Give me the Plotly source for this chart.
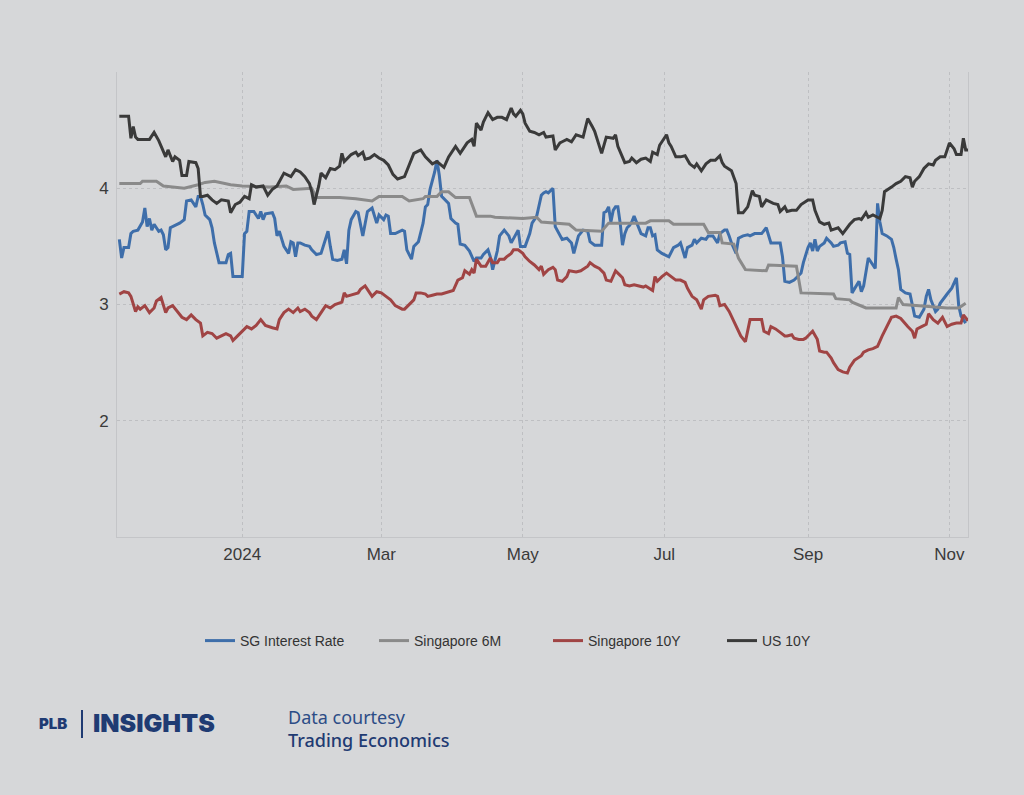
import plotly.graph_objects as go

# ---------------- DATA ----------------
sg_rate_dates = ["2023-11-09","2023-11-10","2023-11-11","2023-11-13","2023-11-14","2023-11-15","2023-11-17","2023-11-19","2023-11-20","2023-11-21","2023-11-22","2023-11-23","2023-11-24","2023-11-26","2023-11-27","2023-11-28","2023-11-29","2023-11-30","2023-12-01","2023-12-03","2023-12-05","2023-12-07","2023-12-08","2023-12-10","2023-12-12","2023-12-13","2023-12-14","2023-12-15","2023-12-16","2023-12-18","2023-12-19","2023-12-20","2023-12-22","2023-12-25","2023-12-26","2023-12-27","2023-12-28",
"2024-01-01","2024-01-02","2024-01-03","2024-01-04","2024-01-06","2024-01-08","2024-01-09","2024-01-10","2024-01-11","2024-01-14","2024-01-15","2024-01-16","2024-01-17","2024-01-19","2024-01-21","2024-01-22","2024-01-23","2024-01-24","2024-01-25","2024-01-26","2024-01-28","2024-01-30","2024-01-31",
"2024-02-02","2024-02-04","2024-02-05","2024-02-07","2024-02-08","2024-02-09","2024-02-11","2024-02-13","2024-02-14","2024-02-15","2024-02-16","2024-02-17","2024-02-19","2024-02-20","2024-02-22","2024-02-23","2024-02-24","2024-02-26","2024-02-27","2024-02-28","2024-02-29",
"2024-03-02","2024-03-03","2024-03-04","2024-03-05","2024-03-07","2024-03-10","2024-03-11","2024-03-12","2024-03-14","2024-03-15","2024-03-17","2024-03-19","2024-03-20","2024-03-21","2024-03-22","2024-03-24","2024-03-25","2024-03-26","2024-03-27","2024-03-30","2024-03-31",
"2024-04-02","2024-04-03","2024-04-04","2024-04-06","2024-04-08","2024-04-10","2024-04-11","2024-04-13","2024-04-14","2024-04-16","2024-04-17","2024-04-18","2024-04-20","2024-04-21","2024-04-23","2024-04-25","2024-04-26","2024-04-28","2024-04-29","2024-04-30",
"2024-05-02","2024-05-04","2024-05-05","2024-05-07","2024-05-09","2024-05-10","2024-05-11","2024-05-12","2024-05-14","2024-05-15","2024-05-17","2024-05-18","2024-05-20","2024-05-22","2024-05-23","2024-05-25","2024-05-27","2024-05-29","2024-05-30",
"2024-06-01","2024-06-04","2024-06-05","2024-06-06","2024-06-07","2024-06-08","2024-06-09","2024-06-10","2024-06-11","2024-06-12","2024-06-13","2024-06-14","2024-06-15","2024-06-16","2024-06-17","2024-06-18","2024-06-19","2024-06-20","2024-06-21","2024-06-23","2024-06-24","2024-06-25","2024-06-26","2024-06-27","2024-06-28","2024-06-30",
"2024-07-01","2024-07-03","2024-07-05","2024-07-07","2024-07-08","2024-07-10","2024-07-11","2024-07-13","2024-07-14","2024-07-15","2024-07-17","2024-07-19","2024-07-20","2024-07-22","2024-07-24","2024-07-25","2024-07-27","2024-07-28","2024-07-29","2024-07-30",
"2024-08-01","2024-08-02","2024-08-04","2024-08-06","2024-08-07","2024-08-09","2024-08-11","2024-08-12","2024-08-14","2024-08-16","2024-08-18","2024-08-20","2024-08-21","2024-08-22","2024-08-24","2024-08-26","2024-08-27","2024-08-29","2024-08-30",
"2024-09-01","2024-09-02","2024-09-03","2024-09-04","2024-09-05","2024-09-06","2024-09-08","2024-09-09","2024-09-11","2024-09-12","2024-09-14","2024-09-15","2024-09-17","2024-09-18","2024-09-19","2024-09-20","2024-09-21","2024-09-23","2024-09-24","2024-09-25","2024-09-27","2024-09-28","2024-09-30",
"2024-10-01","2024-10-02","2024-10-03","2024-10-05","2024-10-07","2024-10-08","2024-10-09","2024-10-10","2024-10-11","2024-10-13","2024-10-15","2024-10-16","2024-10-17","2024-10-19","2024-10-21","2024-10-22","2024-10-23","2024-10-24","2024-10-26","2024-10-27","2024-10-28","2024-10-31",
"2024-11-02","2024-11-04","2024-11-05","2024-11-06","2024-11-08"]
sg_rate_values = [3.56,3.40,3.49,3.49,3.61,3.63,3.64,3.71,3.83,3.67,3.74,3.64,3.69,3.63,3.64,3.60,3.47,3.49,3.66,3.68,3.70,3.73,3.89,3.90,3.84,3.93,3.93,3.86,3.77,3.73,3.66,3.53,3.36,3.36,3.43,3.44,3.24,
3.24,3.61,3.63,3.80,3.80,3.74,3.80,3.73,3.78,3.79,3.74,3.59,3.63,3.50,3.44,3.54,3.53,3.41,3.53,3.53,3.51,3.50,3.47,
3.43,3.44,3.50,3.63,3.50,3.39,3.38,3.39,3.47,3.35,3.64,3.73,3.80,3.79,3.59,3.71,3.80,3.83,3.76,3.70,3.77,
3.73,3.77,3.76,3.61,3.61,3.64,3.63,3.47,3.39,3.50,3.54,3.70,3.84,3.86,3.99,4.14,4.24,4.11,3.93,3.87,3.74,
3.70,3.69,3.52,3.51,3.46,3.37,3.40,3.40,3.43,3.47,3.41,3.30,3.46,3.59,3.64,3.59,3.53,3.61,3.64,3.50,
3.50,3.61,3.70,3.76,3.94,3.96,3.97,3.96,4.00,3.67,3.59,3.56,3.57,3.53,3.44,3.59,3.64,3.63,3.54,
3.51,3.51,3.79,3.80,3.84,3.71,3.81,3.84,3.84,3.70,3.51,3.61,3.66,3.68,3.71,3.76,3.71,3.66,3.61,3.59,3.66,3.66,3.59,3.60,3.47,3.44,
3.43,3.41,3.49,3.51,3.53,3.40,3.49,3.51,3.56,3.53,3.57,3.56,3.59,3.59,3.53,3.61,3.64,3.64,3.59,3.53,
3.44,3.57,3.59,3.60,3.59,3.61,3.61,3.61,3.66,3.53,3.53,3.53,3.41,3.20,3.19,3.21,3.23,3.27,3.36,
3.49,3.53,3.46,3.56,3.46,3.50,3.53,3.57,3.53,3.50,3.51,3.53,3.54,3.44,3.43,3.10,3.13,3.20,3.11,3.16,3.40,3.37,3.31,
3.87,3.71,3.61,3.59,3.56,3.49,3.39,3.30,3.13,3.10,3.09,2.99,2.90,2.89,2.96,3.07,3.13,3.04,2.94,2.96,3.01,3.09,
3.14,3.23,2.99,2.90,2.84]

sg6m_dates = ["2023-11-09","2023-11-18","2023-11-19","2023-11-25","2023-11-28","2023-12-07","2023-12-13","2023-12-16","2023-12-20","2023-12-27",
"2024-01-01","2024-01-13","2024-01-20","2024-01-23","2024-01-31","2024-02-02","2024-02-12","2024-02-19","2024-02-26","2024-02-29",
"2024-03-10","2024-03-13","2024-03-19","2024-03-20","2024-03-25","2024-03-27","2024-03-30","2024-04-02","2024-04-08","2024-04-11",
"2024-04-17","2024-04-19","2024-05-01","2024-05-07","2024-05-09","2024-05-21","2024-05-24","2024-06-04","2024-06-07","2024-06-23",
"2024-06-25","2024-07-03","2024-07-05","2024-07-18","2024-07-20","2024-07-25","2024-07-26","2024-07-31","2024-08-02","2024-08-05",
"2024-08-14","2024-08-15","2024-08-27","2024-08-29","2024-09-12","2024-09-13","2024-09-19","2024-09-20","2024-09-26","2024-10-09",
"2024-10-10","2024-10-12","2024-10-19","2024-10-31","2024-11-05","2024-11-08"]
sg6m_values = [4.04,4.04,4.06,4.06,4.02,4.00,4.03,4.05,4.06,4.03,
4.02,4.01,4.02,3.99,4.00,3.92,3.92,3.91,3.89,3.93,
3.93,3.89,3.91,3.93,3.93,3.97,3.97,3.92,3.92,3.76,
3.76,3.75,3.74,3.75,3.71,3.69,3.64,3.63,3.70,3.70,
3.72,3.72,3.69,3.69,3.62,3.62,3.53,3.52,3.40,3.30,
3.29,3.34,3.33,3.10,3.09,3.05,3.04,3.02,2.97,2.97,
3.06,3.00,2.99,2.97,2.97,3.01]

sg10y_dates = ["2023-11-09","2023-11-11","2023-11-13","2023-11-14","2023-11-16","2023-11-17","2023-11-18","2023-11-20","2023-11-22","2023-11-24","2023-11-25","2023-11-27","2023-11-29","2023-11-30",
"2023-12-02","2023-12-04","2023-12-06","2023-12-08","2023-12-10","2023-12-12","2023-12-14","2023-12-15","2023-12-17","2023-12-19","2023-12-21","2023-12-23","2023-12-25","2023-12-27","2023-12-28","2023-12-30",
"2024-01-01","2024-01-03","2024-01-05","2024-01-07","2024-01-09","2024-01-11","2024-01-14","2024-01-16","2024-01-17","2024-01-19","2024-01-21","2024-01-23","2024-01-25","2024-01-26","2024-01-28","2024-01-30","2024-01-31",
"2024-02-02","2024-02-04","2024-02-06","2024-02-08","2024-02-10","2024-02-13","2024-02-14","2024-02-15","2024-02-18","2024-02-20","2024-02-21","2024-02-23","2024-02-25","2024-02-26","2024-02-28",
"2024-03-01","2024-03-03","2024-03-05","2024-03-07","2024-03-10","2024-03-11","2024-03-13","2024-03-15","2024-03-16","2024-03-18","2024-03-20","2024-03-21","2024-03-23","2024-03-25","2024-03-27","2024-03-30",
"2024-04-01","2024-04-03","2024-04-05","2024-04-06","2024-04-08","2024-04-09","2024-04-10","2024-04-11","2024-04-13","2024-04-15","2024-04-16","2024-04-17","2024-04-18","2024-04-20","2024-04-21","2024-04-23","2024-04-24","2024-04-26","2024-04-27","2024-04-29",
"2024-05-01","2024-05-02","2024-05-04","2024-05-06","2024-05-08","2024-05-09","2024-05-10","2024-05-12","2024-05-14","2024-05-15","2024-05-16","2024-05-18","2024-05-20","2024-05-21","2024-05-24","2024-05-26","2024-05-29","2024-05-30",
"2024-06-01","2024-06-03","2024-06-05","2024-06-06","2024-06-08","2024-06-10","2024-06-11","2024-06-13","2024-06-14","2024-06-16","2024-06-18","2024-06-20","2024-06-22","2024-06-23","2024-06-26","2024-06-27","2024-06-28","2024-06-30",
"2024-07-02","2024-07-04","2024-07-06","2024-07-08","2024-07-10","2024-07-11","2024-07-13","2024-07-15","2024-07-17","2024-07-18","2024-07-20","2024-07-23","2024-07-24","2024-07-25","2024-07-27","2024-07-29","2024-07-30",
"2024-08-01","2024-08-03","2024-08-05","2024-08-06","2024-08-07","2024-08-10","2024-08-12","2024-08-13","2024-08-15","2024-08-16","2024-08-18","2024-08-20","2024-08-22","2024-08-23","2024-08-25","2024-08-26","2024-08-28","2024-08-30","2024-08-31",
"2024-09-02","2024-09-03","2024-09-05","2024-09-06","2024-09-08","2024-09-09","2024-09-11","2024-09-12","2024-09-14","2024-09-16","2024-09-18","2024-09-19","2024-09-21","2024-09-24","2024-09-25","2024-09-27","2024-09-29",
"2024-10-01","2024-10-03","2024-10-05","2024-10-07","2024-10-09","2024-10-11","2024-10-14","2024-10-16","2024-10-17","2024-10-18","2024-10-20","2024-10-22","2024-10-23","2024-10-25","2024-10-27","2024-10-29","2024-10-31",
"2024-11-02","2024-11-04","2024-11-06","2024-11-07","2024-11-08","2024-11-09"]
sg10y_values = [3.09,3.11,3.10,3.07,2.94,2.98,2.96,2.99,2.93,2.97,3.03,3.06,2.93,2.97,
2.99,2.94,2.89,2.87,2.91,2.87,2.84,2.73,2.76,2.75,2.71,2.73,2.75,2.73,2.69,2.73,
2.77,2.81,2.79,2.82,2.87,2.82,2.80,2.79,2.87,2.93,2.96,2.93,2.97,2.94,2.96,2.93,2.90,
2.87,2.93,2.99,2.97,3.00,3.02,3.10,3.07,3.09,3.10,3.13,3.16,3.10,3.07,3.11,
3.10,3.07,3.04,2.99,2.96,2.96,3.00,3.04,3.10,3.10,3.09,3.07,3.08,3.09,3.09,3.11,
3.12,3.21,3.23,3.29,3.26,3.30,3.27,3.39,3.33,3.33,3.36,3.40,3.36,3.36,3.39,3.39,3.41,3.44,3.47,3.47,
3.44,3.41,3.37,3.34,3.30,3.33,3.26,3.30,3.32,3.30,3.21,3.20,3.24,3.29,3.28,3.29,3.33,3.36,
3.33,3.31,3.27,3.21,3.20,3.29,3.27,3.23,3.17,3.16,3.17,3.16,3.15,3.16,3.12,3.24,3.20,3.24,
3.27,3.24,3.21,3.21,3.19,3.14,3.07,3.04,2.96,3.04,3.07,3.08,3.07,2.99,3.00,2.94,2.90,
2.82,2.73,2.68,2.77,2.87,2.87,2.87,2.77,2.75,2.81,2.79,2.76,2.73,2.73,2.74,2.71,2.70,2.70,2.71,
2.75,2.77,2.70,2.60,2.59,2.59,2.54,2.50,2.44,2.42,2.41,2.46,2.52,2.56,2.59,2.61,2.62,
2.64,2.73,2.81,2.89,2.90,2.88,2.81,2.77,2.71,2.79,2.81,2.83,2.92,2.87,2.84,2.89,2.81,
2.83,2.84,2.84,2.91,2.88,2.86]

us10y_dates = ["2023-11-09","2023-11-13","2023-11-14","2023-11-15","2023-11-16","2023-11-17","2023-11-22","2023-11-24","2023-11-26","2023-11-29","2023-11-30",
"2023-12-02","2023-12-03","2023-12-05","2023-12-06","2023-12-08","2023-12-09","2023-12-12","2023-12-13","2023-12-14","2023-12-15","2023-12-17","2023-12-19","2023-12-21","2023-12-23","2023-12-26","2023-12-27","2023-12-29","2023-12-31",
"2024-01-02","2024-01-04","2024-01-05","2024-01-07","2024-01-10","2024-01-12","2024-01-14","2024-01-16","2024-01-19","2024-01-22","2024-01-24","2024-01-26","2024-01-28","2024-01-30","2024-01-31",
"2024-02-01","2024-02-03","2024-02-04","2024-02-06","2024-02-08","2024-02-10","2024-02-12","2024-02-13","2024-02-14","2024-02-17","2024-02-19","2024-02-20","2024-02-22","2024-02-23","2024-02-25","2024-02-27","2024-02-29",
"2024-03-02","2024-03-04","2024-03-06","2024-03-08","2024-03-11","2024-03-13","2024-03-15","2024-03-18","2024-03-20","2024-03-23","2024-03-25","2024-03-28","2024-03-30",
"2024-04-02","2024-04-04","2024-04-06","2024-04-07","2024-04-09","2024-04-10","2024-04-11","2024-04-13","2024-04-14","2024-04-16","2024-04-18","2024-04-20","2024-04-22","2024-04-24","2024-04-26","2024-04-27","2024-04-28","2024-04-30",
"2024-05-01","2024-05-02","2024-05-04","2024-05-06","2024-05-08","2024-05-09","2024-05-10","2024-05-11","2024-05-14","2024-05-15","2024-05-17","2024-05-18","2024-05-20","2024-05-22","2024-05-24","2024-05-27","2024-05-29","2024-05-31",
"2024-06-01","2024-06-04","2024-06-06","2024-06-09","2024-06-10","2024-06-11","2024-06-14","2024-06-16","2024-06-17","2024-06-19","2024-06-21","2024-06-23","2024-06-25","2024-06-26","2024-06-28","2024-06-29","2024-06-30",
"2024-07-02","2024-07-03","2024-07-04","2024-07-06","2024-07-08","2024-07-10","2024-07-12","2024-07-14","2024-07-15","2024-07-17","2024-07-19","2024-07-21","2024-07-23","2024-07-25","2024-07-26","2024-07-27","2024-07-30",
"2024-08-01","2024-08-02","2024-08-04","2024-08-06","2024-08-08","2024-08-09","2024-08-11","2024-08-12","2024-08-14","2024-08-17","2024-08-19","2024-08-20","2024-08-22","2024-08-23","2024-08-25","2024-08-27","2024-08-29",
"2024-09-01","2024-09-03","2024-09-04","2024-09-06","2024-09-08","2024-09-10","2024-09-11","2024-09-14","2024-09-16","2024-09-19","2024-09-21","2024-09-23","2024-09-24","2024-09-26","2024-09-27","2024-09-29",
"2024-10-02","2024-10-03","2024-10-04","2024-10-07","2024-10-09","2024-10-11","2024-10-13","2024-10-15","2024-10-16","2024-10-17","2024-10-19","2024-10-21","2024-10-23","2024-10-25","2024-10-26","2024-10-28","2024-10-30",
"2024-11-01","2024-11-03","2024-11-04","2024-11-06","2024-11-07","2024-11-08","2024-11-09"]
us10y_values = [4.62,4.62,4.43,4.53,4.44,4.42,4.42,4.48,4.41,4.27,4.33,
4.23,4.27,4.24,4.11,4.11,4.23,4.22,4.17,3.93,3.93,3.94,3.90,3.87,3.90,3.89,3.79,3.86,3.88,
3.93,3.91,4.03,4.01,4.02,3.94,3.99,4.02,4.13,4.10,4.16,4.14,4.10,4.04,3.97,
3.86,4.02,4.13,4.09,4.17,4.16,4.19,4.30,4.23,4.29,4.31,4.28,4.31,4.25,4.26,4.29,4.26,
4.24,4.20,4.12,4.08,4.10,4.20,4.30,4.33,4.27,4.21,4.23,4.18,4.27,
4.36,4.30,4.36,4.39,4.42,4.36,4.56,4.50,4.57,4.65,4.59,4.61,4.61,4.59,4.69,4.64,4.62,4.67,
4.64,4.56,4.49,4.48,4.46,4.47,4.48,4.44,4.45,4.33,4.39,4.40,4.42,4.40,4.46,4.44,4.60,4.53,
4.49,4.30,4.44,4.43,4.46,4.36,4.22,4.23,4.26,4.22,4.25,4.26,4.23,4.31,4.29,4.37,4.40,
4.46,4.39,4.36,4.27,4.27,4.28,4.21,4.18,4.21,4.15,4.21,4.24,4.24,4.28,4.22,4.19,4.15,
4.04,3.79,3.79,3.84,3.98,3.94,3.93,3.84,3.90,3.87,3.86,3.80,3.84,3.80,3.81,3.81,3.86,
3.90,3.90,3.81,3.71,3.69,3.70,3.64,3.66,3.61,3.69,3.73,3.74,3.73,3.79,3.75,3.77,
3.74,3.81,3.97,4.01,4.04,4.06,4.10,4.09,4.01,4.06,4.10,4.17,4.21,4.20,4.24,4.27,4.27,
4.39,4.34,4.29,4.29,4.43,4.33,4.33]

series_names = ["SG Interest Rate", "Singapore 6M", "Singapore 10Y", "US 10Y"]
x_tick_dates = ["2024-01-01", "2024-03-01", "2024-05-01", "2024-07-01", "2024-09-01", "2024-11-01"]
x_tick_labels = ["2024", "Mar", "May", "Jul", "Sep", "Nov"]
y_tick_values = [1, 2, 3, 4, 5]
y_tick_labels = ["", "2", "3", "4", ""]

# ---------------- STYLE ----------------
BG = "rgb(214,215,217)"
GRID = "rgb(190,191,194)"
AXIS = "rgb(196,197,200)"
colors = ["rgb(62,110,170)", "rgb(138,138,138)", "rgb(160,68,68)", "rgb(58,58,58)"]
FONT = "Liberation Sans, Arial, sans-serif"
NAVY = "#1f3b73"

# pixel -> paper helpers (plot area: x 117..968, y 72..537)
L, R, T, B = 117, 968, 72, 537
def px(x):
    return (x - L) / (R - L)
def py(y):
    return (B - y) / (B - T)

fig = go.Figure()
all_x = [sg_rate_dates, sg6m_dates, sg10y_dates, us10y_dates]
all_y = [sg_rate_values, sg6m_values, sg10y_values, us10y_values]
for name, xs, ys, c in zip(series_names, all_x, all_y, colors):
    fig.add_trace(go.Scatter(x=xs, y=ys, mode="lines", name=name,
                             line=dict(color=c, width=3)))

fig.update_layout(
    width=1024, height=795, autosize=False,
    paper_bgcolor=BG, plot_bgcolor=BG,
    margin=dict(l=L, r=1024 - R, t=T, b=795 - B),
    font=dict(family=FONT, color="#333333"),
    showlegend=True,
    legend=dict(orientation="h", x=px(200), xanchor="left", y=py(641), yanchor="middle",
                entrywidth=129, entrywidthmode="pixels",
                font=dict(size=14, color="#333333", family=FONT),
                bgcolor="rgba(0,0,0,0)", borderwidth=0),
    hovermode=False,
)
fig.update_xaxes(range=["2023-11-08", "2024-11-09"], tickmode="array",
                 tickvals=x_tick_dates, ticktext=x_tick_labels,
                 showgrid=True, gridcolor=GRID, griddash="dot", gridwidth=1,
                 showline=True, linecolor=AXIS, linewidth=1,
                 ticks="outside", ticklen=2, tickcolor="rgba(0,0,0,0)",
                 tickfont=dict(size=17, color="#3a3a3a", family=FONT), zeroline=False)
fig.update_yaxes(range=[1, 5], tickmode="array", tickvals=y_tick_values, ticktext=y_tick_labels,
                 showgrid=True, gridcolor=GRID, griddash="dot", gridwidth=1,
                 showline=True, mirror=True, linecolor=AXIS, linewidth=1,
                 ticks="outside", ticklen=4, tickcolor="rgba(0,0,0,0)",
                 tickfont=dict(size=17, color="#3a3a3a", family=FONT), zeroline=False)

# Footer branding
fig.add_annotation(xref="paper", yref="paper", x=px(37), y=py(723), xanchor="left", yanchor="middle",
                   text="PLB", showarrow=False,
                   font=dict(size=15, color=NAVY, family="Inter, Lato, sans-serif", weight=900))
fig.add_shape(type="line", xref="paper", yref="paper", x0=px(82), x1=px(82), y0=py(710), y1=py(738),
              line=dict(color=NAVY, width=2))
fig.add_annotation(xref="paper", yref="paper", x=px(91), y=py(723), xanchor="left", yanchor="middle",
                   text="INSIGHTS", showarrow=False,
                   font=dict(size=25, color=NAVY, family="Inter, Lato, sans-serif", weight=900))
fig.add_annotation(xref="paper", yref="paper", x=px(286), y=py(717), xanchor="left", yanchor="middle",
                   text="Data courtesy", showarrow=False,
                   font=dict(size=18, color="#2c4c86", family="Noto Sans, Open Sans, sans-serif"))
fig.add_annotation(xref="paper", yref="paper", x=px(286), y=py(740), xanchor="left", yanchor="middle",
                   text="Trading Economics", showarrow=False,
                   font=dict(size=18, color=NAVY, family="Noto Sans, Open Sans, sans-serif", weight=500))

fig.write_html("out.html")
